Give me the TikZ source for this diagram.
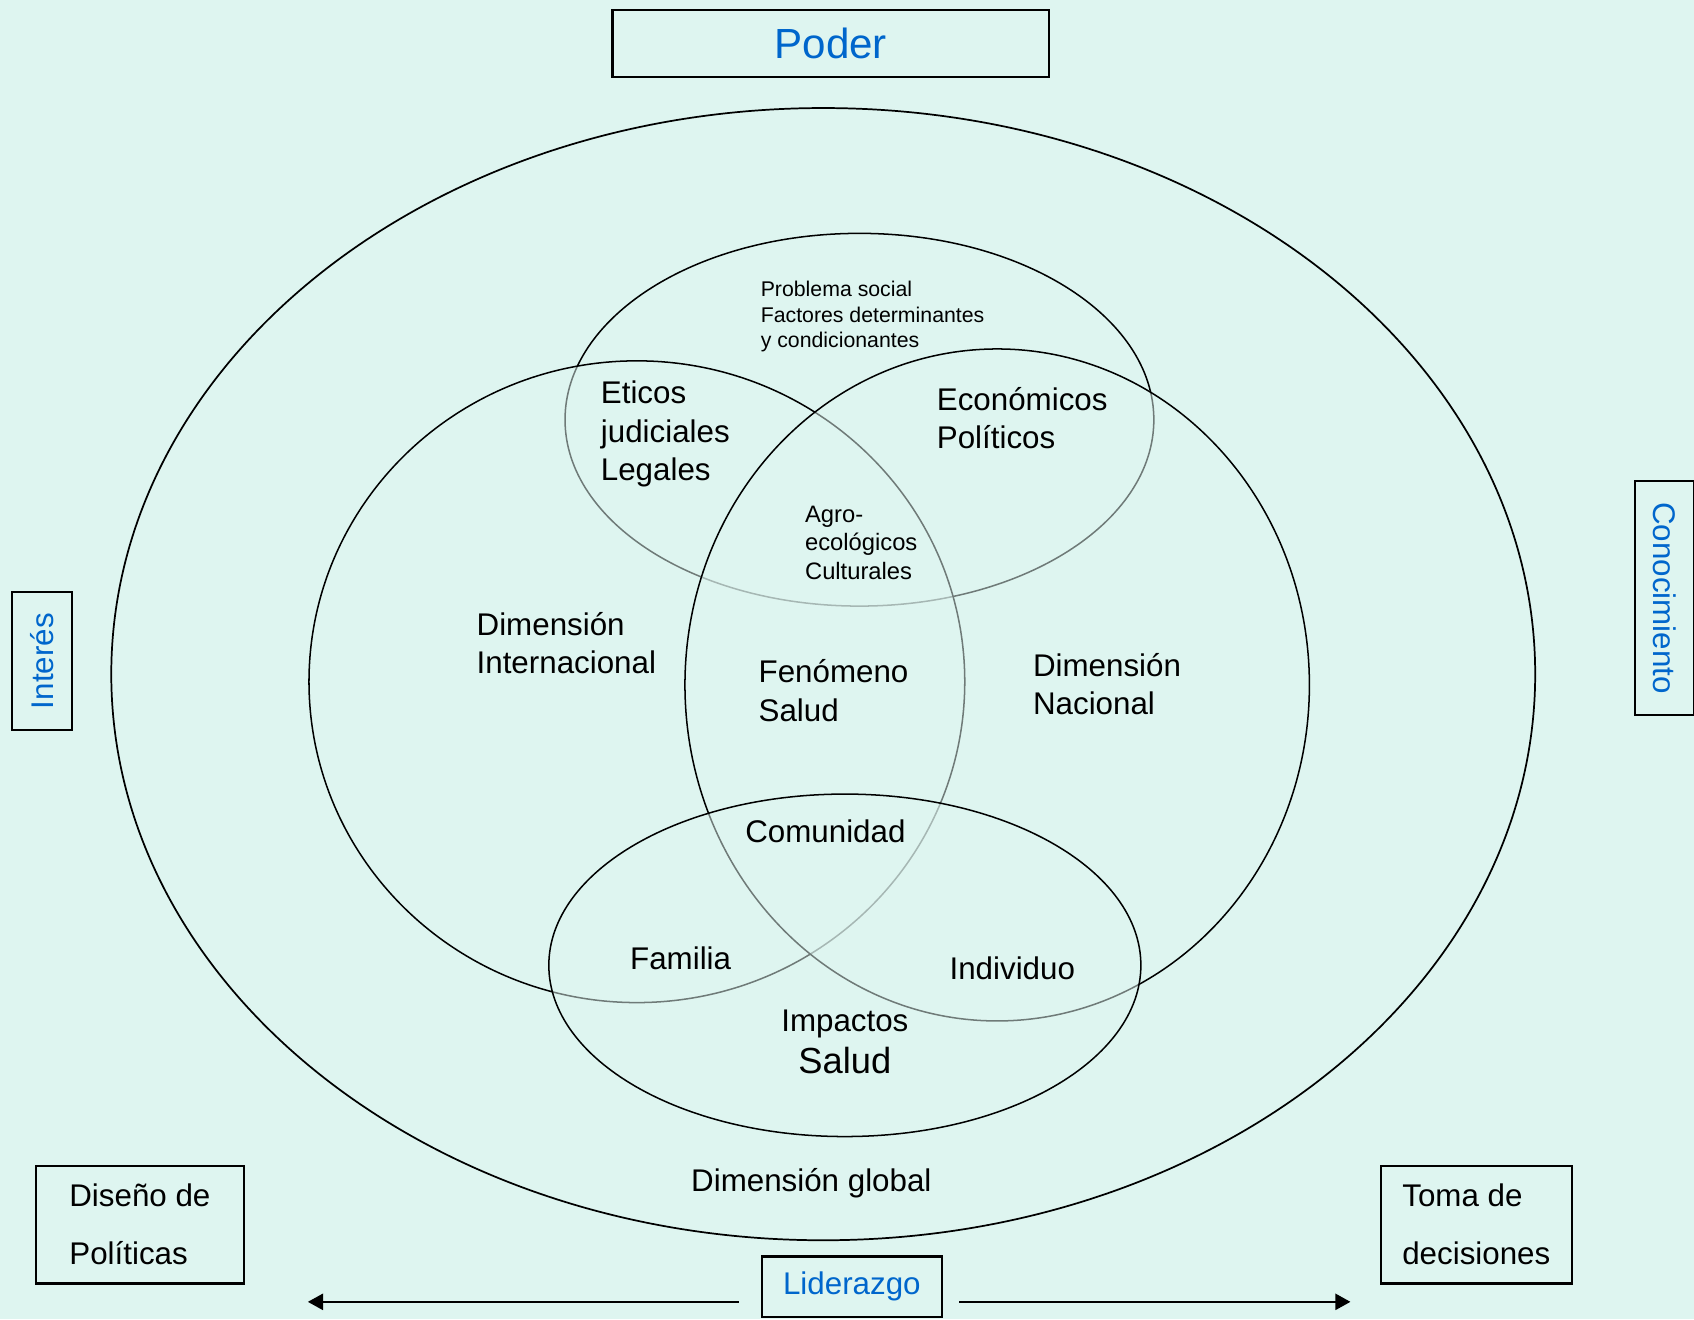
\documentclass[tikz,border=0pt]{standalone}
\usepackage{fontspec}
\setmainfont{Liberation Sans}
\usetikzlibrary{arrows.meta}
\definecolor{fondo}{RGB}{222,245,240}
\definecolor{azul}{RGB}{0,102,204}
\newcommand{\letra}{\fontsize{29}{35.5}\selectfont}
\newcommand{\chica}{\fontsize{19.7}{23.7}\selectfont}
\newcommand{\media}{\fontsize{22}{26.5}\selectfont}
\newcommand{\grande}{\fontsize{33.6}{40}\selectfont}
\newcommand{\titulo}{\fontsize{39}{45}\selectfont}

\tikzset{
	caja/.style={draw, line width=2pt, inner sep=0pt, align=left, font=\letra},
	zona/.style={draw, line width=1.4pt, fill=fondo, fill opacity=0.5},
	rotulo/.style={anchor=north west, inner sep=0pt, align=left, font=\letra},
	palabra/.style={anchor=base, inner sep=0pt, font=\letra},
	flecha/.style={line width=1.8pt, -{Triangle[length=14pt,width=15pt]}}
}

\begin{document}
\begin{tikzpicture}[x=1pt, y=-1pt]
	\fill[fondo] (0,0) rectangle (1568,1221);
	\useasboundingbox (0,0) rectangle (1568,1221);
	
	% elipses
	\draw[line width=1.6pt] (762,624) ellipse [x radius=659pt, y radius=524pt];
	\draw[zona] (795.5,388.5) ellipse [x radius=272.5pt, y radius=172.5pt];
	\draw[zona] (589.5,631) ellipse [x radius=303.5pt, y radius=297pt];
	\draw[zona] (923,634) ellipse [x radius=289pt, y radius=311pt];
	\draw[zona] (782,893.5) ellipse [x radius=274pt, y radius=158.5pt];
	
	\node[rotulo, font=\chica] (problema) at (704,260) {Problema social\\Factores determinantes\\y condicionantes};
	\node[rotulo] (eticos) at (556,352.5) {Eticos\\judiciales\\Legales};
	\node[rotulo] (economicos) at (867,358.5) {Económicos\\Políticos};
	\node[rotulo, font=\media] (agro) at (745,468) {Agro-\\ecológicos\\Culturales};
	\node[rotulo] (internacional) at (441,566.5) {Dimensión\\Internacional};
	\node[rotulo] (fenomeno) at (702,610.5) {Fenómeno\\Salud};
	\node[rotulo] (nacional) at (956,604.5) {Dimensión\\Nacional};
	
	\node[palabra] (comunidad) at (764,779.4) {Comunidad};
	\node[palabra] (familia) at (630,897.4) {Familia};
	\node[palabra] (individuo) at (937,906.4) {Individuo};
	\node[palabra] (impactos) at (782,954.4) {Impactos};
	\node[palabra, font=\grande] (salud) at (782,994) {Salud};
	\node[palabra] (global) at (751,1102.4) {Dimensión global};
	
	% cajas
	\node[caja, font=\titulo, text=azul, minimum width=404pt, minimum height=62pt] (poder) at (769,40) {Poder};
	\node[caja, text=azul, rotate=90, minimum width=128pt, minimum height=56pt] (interes) at (39,612) {Interés};
	\node[caja, text=azul, rotate=-90, minimum width=217pt, minimum height=55pt] (conocimiento) at (1540.5,553.5) {Conocimiento};
	\node[caja, font=\fontsize{29}{54}\selectfont, minimum width=193pt, minimum height=109pt] (diseno) at (129.5,1133.5) {Diseño de\\Políticas};
	\node[caja, font=\fontsize{29}{54}\selectfont, minimum width=177pt, minimum height=109pt] (toma) at (1366.5,1133.5) {Toma de\\decisiones};
	\node[caja, text=azul, minimum width=167pt, minimum height=56pt] (lider) at (788.5,1191) {Liderazgo};
	
	\coordinate (izq) at (285,1205);
	\coordinate (der) at (1250,1205);
	\draw[flecha] ([xshift=-20pt,yshift=-14pt]lider.west) -- (izq);
	\draw[flecha] ([xshift=15pt,yshift=-14pt]lider.east) -- (der);
\end{tikzpicture}
\end{document}
